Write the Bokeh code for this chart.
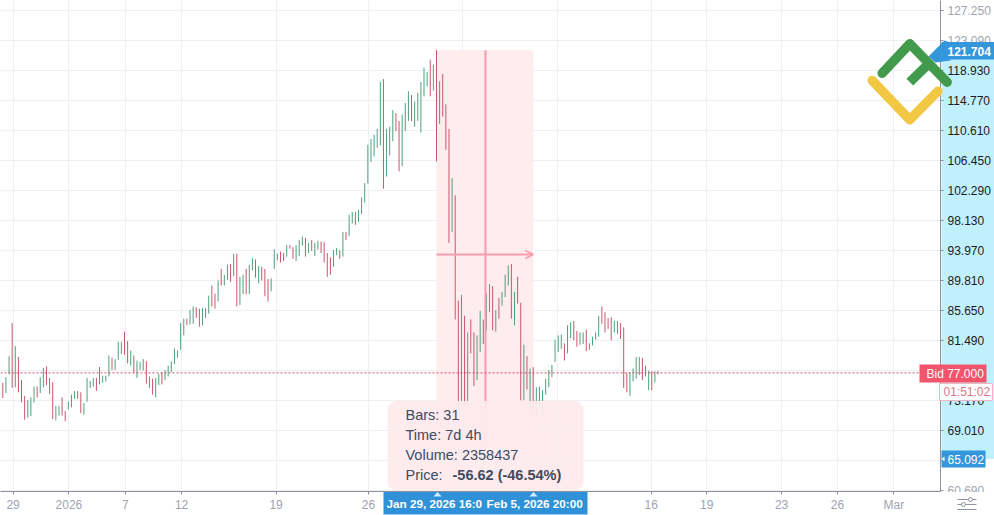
from bokeh.embed import file_html
from bokeh.layouts import column
from bokeh.models import (Arrow, BoxAnnotation, ColumnDataSource, FixedTicker, Label,
                          OpenHead, PolyAnnotation, Range1d, Span)
from bokeh.plotting import figure
from bokeh.resources import INLINE

# 4h bars
highs = [75.6, 76.4, 79.3, 83.9, 80.7, 79.2, 76.0, 73.8, 73.2, 73.6,
         75.1, 75.1, 76.4, 77.7, 77.9, 76.3, 75.7, 72.4, 72.4, 73.6,
         71.7, 73.0, 74.0, 74.5, 74.5, 74.3, 72.8, 76.3, 75.9, 76.3,
         76.3, 77.8, 76.6, 76.6, 79.4, 79.1, 78.9, 81.3, 81.3, 82.7,
         81.4, 80.1, 79.4, 78.7, 78.5, 78.9, 78.6, 76.5, 76.2, 76.3,
         76.9, 77.1, 77.4, 78.0, 78.6, 80.4, 80.1, 83.9, 84.5, 84.5,
         85.7, 86.2, 86.1, 85.9, 86.0, 86.0, 87.7, 89.1, 88.0, 89.8,
         91.4, 90.6, 92.0, 92.1, 93.5, 93.5, 90.3, 90.6, 91.4, 92.0,
         92.9, 92.7, 91.8, 91.7, 91.4, 90.0, 90.1, 94.1, 93.5, 93.8,
         93.6, 94.7, 94.7, 94.4, 94.7, 95.4, 95.9, 95.7, 95.0, 95.4,
         95.0, 95.3, 95.2, 95.1, 93.6, 93.0, 94.0, 94.3, 94.0, 96.5,
         96.5, 98.9, 99.3, 99.3, 99.6, 101.3, 103.3, 108.6, 109.4, 110.0,
         110.8, 117.3, 117.7, 110.8, 111.1, 113.4, 113.0, 111.9, 112.8, 114.4,
         116.0, 115.5, 114.6, 115.8, 117.3, 119.3, 118.7, 120.4, 119.7, 121.7,
         117.4, 118.4, 114.2, 110.8, 104.0, 101.6, 87.0, 87.8, 84.9, 82.6,
         84.4, 82.6, 82.2, 85.6, 84.4, 88.0, 89.3, 89.0, 85.7, 87.4,
         88.2, 90.6, 91.9, 92.1, 88.2, 90.3, 86.7, 80.9, 79.3, 77.6,
         77.8, 75.0, 75.1, 74.6, 76.2, 77.4, 78.1, 81.6, 82.2, 82.3,
         81.1, 83.6, 84.0, 84.2, 82.8, 82.6, 82.6, 83.0, 81.1, 82.0,
         82.6, 84.9, 86.2, 85.4, 84.6, 84.7, 84.2, 84.2, 83.9, 83.3,
         77.0, 77.1, 77.6, 79.2, 79.2, 79.1, 78.0, 77.3, 77.2, 77.2,
         77.2]
lows = [73.5, 74.2, 76.8, 74.9, 75.0, 74.3, 72.9, 70.5, 70.8, 71.0,
        72.9, 73.6, 74.2, 75.0, 75.3, 74.1, 70.6, 70.4, 71.1, 71.1,
        70.3, 71.9, 72.2, 73.4, 73.4, 71.4, 71.2, 73.0, 74.9, 75.1,
        74.5, 75.4, 75.6, 75.8, 76.5, 77.4, 77.4, 78.8, 79.6, 79.5,
        78.3, 78.0, 77.0, 76.3, 77.4, 77.3, 75.5, 74.9, 74.0, 73.6,
        75.3, 75.4, 76.0, 76.5, 77.1, 78.2, 79.1, 80.2, 82.2, 83.6,
        83.7, 83.8, 84.6, 83.4, 83.6, 84.6, 85.2, 86.2, 85.9, 86.9,
        89.1, 89.1, 89.9, 89.6, 90.4, 86.2, 86.4, 87.9, 87.9, 87.9,
        91.2, 90.2, 89.4, 89.8, 87.6, 86.9, 88.3, 91.4, 92.6, 92.3,
        92.5, 93.1, 94.2, 92.8, 92.5, 93.2, 94.6, 93.1, 93.6, 93.9,
        93.2, 94.1, 93.6, 92.3, 90.3, 90.6, 91.7, 93.3, 92.8, 93.1,
        95.4, 96.0, 97.7, 97.5, 97.9, 99.0, 100.6, 103.2, 106.2, 107.0,
        108.2, 108.5, 102.5, 104.2, 107.1, 109.1, 110.5, 104.9, 105.6, 110.5,
        111.9, 111.9, 111.1, 111.9, 110.3, 115.3, 116.7, 115.3, 116.1, 106.3,
        111.5, 112.5, 107.9, 95.0, 96.5, 84.4, 72.3, 72.7, 72.3, 72.3,
        79.7, 75.2, 76.0, 79.9, 81.0, 82.9, 85.4, 82.9, 82.7, 84.5,
        86.3, 87.5, 89.1, 84.5, 83.6, 86.6, 73.2, 73.2, 74.7, 72.3,
        71.3, 70.9, 72.3, 71.3, 74.0, 75.0, 76.4, 78.5, 79.9, 80.3,
        78.7, 79.7, 81.8, 81.5, 80.6, 80.9, 81.0, 80.0, 80.2, 80.8,
        81.6, 82.0, 83.8, 82.6, 83.1, 81.5, 82.6, 82.4, 81.7, 74.9,
        74.3, 73.8, 75.8, 76.2, 76.7, 76.0, 76.5, 74.6, 74.6, 75.7,
        76.8]
# r = falling bar, g = rising bar
sides = ("rggrgrrrgg" "grggrrrggr" "rgggrrgggg" "rggggrgggr" "rgrgggrgrg"
         "grgggggggr" "ggrrgggrrg" "rggrgrggrg" "grgrrrgggr" "rgrrgggrgr"
         "ggrrrrggrg" "rggrgggggg" "ggrgggrrgg" "grgggggrgr" "grrrgrrgrg"
         "rrggrggrgr" "gggrgrrgrg" "rggggggggg" "rggrrggrrg" "ggrrrrggrr"
         "rggggrrgrgg")

x_ticks = [3.3, 21.2, 39.3, 57.3, 87.6, 117.2, 147.4, 177.7, 207.8, 225.6, 249.6, 267.5, 285.6]
x_labels = ["29", "2026", "7", "12", "19", "26", "2", "9", "16", "19", "23", "26", "Mar"]
y_ticks = [60.69, 64.85, 69.01, 73.17, 77.33, 81.49, 85.65, 89.81, 93.97,
           98.13, 102.29, 106.45, 110.61, 114.77, 118.93, 123.09, 127.25]
faded_ticks = [60.69, 123.09, 127.25]

sel_start, sel_end = 139, 170
sel_high, sel_low = 121.704, 65.092
bid = 77.0

FONT = "Liberation Sans"
GREEN = "#4f9f7d"
RED = "#c9566d"
BLUE = "#3497dc"
SEL_LINE = "#f79bad"
W, H = 994, 515


def layer():
    # full-canvas figure without axes, annotations in it are not cut at the chart frame
    f = figure(frame_width=W, frame_height=H, output_backend="svg", toolbar_location=None,
               x_range=Range1d(0, W), y_range=Range1d(H, 0),
               x_axis_location=None, y_axis_location=None,
               min_border_left=0, min_border_right=0, min_border_top=0, min_border_bottom=0)
    f.grid.visible = False
    f.outline_line_color = None
    f.background_fill_color = None
    f.border_fill_color = None
    return f


under = layer()
under.border_fill_color = "white"
top = layer()
top.margin = (-H, 0, 0, 0)

p = figure(width=W, height=H, output_backend="svg", toolbar_location=None,
           x_range=Range1d(-0.74, 300.54), y_range=Range1d(60.56, 128.59),
           y_axis_location="right", min_border_left=0, min_border_top=0,
           min_border_right=54, min_border_bottom=24, margin=(-H, 0, 0, 0))
p.outline_line_color = None
p.background_fill_color = None
p.border_fill_color = None
p.xgrid.ticker = FixedTicker(ticks=x_ticks)
p.ygrid.ticker = FixedTicker(ticks=y_ticks)
p.xgrid.grid_line_color = "#eff0f3"
p.ygrid.grid_line_color = "#eff0f3"

p.xaxis.ticker = FixedTicker(ticks=x_ticks)
p.xaxis.major_label_overrides = dict(zip(x_ticks, x_labels))
p.yaxis.ticker = FixedTicker(ticks=y_ticks)
p.yaxis.major_label_overrides = {t: "" if t in faded_ticks else f"{t:.3f}" for t in y_ticks}
for ax in (p.xaxis[0], p.yaxis[0]):
    ax.axis_line_color = "#8d929c"
    ax.major_tick_line_color = "#8d929c"
    ax.minor_tick_line_color = None
    ax.major_tick_in = 0
    ax.major_tick_out = 3
    ax.major_label_text_font = FONT
    ax.major_label_text_font_size = "12px"
p.xaxis.major_label_text_color = "#9ea3af"
p.xaxis.major_label_standoff = 3
p.yaxis.major_label_text_color = "#1b1b1b"
p.yaxis.major_label_standoff = 4

p.add_layout(BoxAnnotation(left=sel_start, right=sel_end, top=sel_high, bottom=sel_low,
                           fill_color="#feeaed", fill_alpha=0.9, line_color=None, level="underlay"))

source = ColumnDataSource(data=dict(
    x=list(range(len(highs))),
    high=highs,
    low=lows,
    color=[RED if s == "r" else GREEN for s in sides],
))
p.segment(x0="x", y0="low", x1="x", y1="high", color="color", line_width=1, source=source)

p.add_layout(Span(location=bid, dimension="width", line_color="#cf4f62", line_width=1, line_dash="2 2"))

mid_x = (sel_start + sel_end + 0.4) / 2
mid_y = (sel_high + sel_low) / 2
p.segment(x0=[mid_x], y0=[sel_low], x1=[mid_x], y1=[sel_high], color=SEL_LINE, line_width=2)
p.add_layout(Arrow(end=OpenHead(size=8, line_color=SEL_LINE, line_width=1.5),
                   x_start=sel_start, y_start=mid_y, x_end=sel_end, y_end=mid_y,
                   line_color=SEL_LINE, line_width=2))


def box(f, x0, y0, x1, y1, color, line=None, radius=0, alpha=1):
    f.add_layout(BoxAnnotation(left=x0, right=x1, top=y0, bottom=y1,
                               left_units="canvas", right_units="canvas",
                               top_units="canvas", bottom_units="canvas",
                               fill_color=color, fill_alpha=alpha, line_color=line, line_alpha=1,
                               border_radius=radius))


def text(x, y, s, color="white", size="12px", style="normal"):
    top.add_layout(Label(x=x, y=y, x_units="canvas", y_units="canvas", text=s, text_font=FONT,
                         text_font_size=size, text_font_style=style, text_color=color,
                         text_baseline="middle"))


def stroke(pts, color, width):
    # out and back along the path so the joins give rounded ends
    path = pts + pts[-2:0:-1]
    top.add_layout(PolyAnnotation(xs=[a for a, _ in path], ys=[b for _, b in path],
                                  xs_units="canvas", ys_units="canvas", fill_alpha=0,
                                  line_color=color, line_alpha=1, line_width=width, line_join="round"))


def shape(pts, color):
    top.add_layout(PolyAnnotation(xs=[a for a, _ in pts], ys=[b for _, b in pts],
                                  xs_units="canvas", ys_units="canvas", fill_color=color, fill_alpha=1,
                                  line_color=None))


# price scale band between the two selected prices
box(under, 941, 50, W, 458.5, "#bff0fb")

# scale labels outside the band, same rows as the axis ticks
faded_rows = {60.69: 489.5, 123.09: 40, 127.25: 9.5}
for t in faded_ticks:
    text(947, faded_rows[t], f"{t:.3f}", color="#a1a5ad")
box(top, 941, 491.5, W, H, "white")

# tags on the price scale
shape([(928, 56), (944, 40), (950, 42), (950, 60), (935, 62)], BLUE)
box(top, 941, 41.5, W, 59, BLUE)
text(947, 50.5, f"{sel_high:.3f}", style="bold")
box(top, 941, 450, 985, 467, BLUE)
shape([(941, 458.5), (944, 456), (944, 461)], "white")
text(947, 458.5, f"{sel_low:.3f}")
box(top, 919, 364, 986, 382, "#f2556b")
text(926, 373, f"Bid {bid:.3f}")
box(top, 939, 383, 992, 400, "white", line="#f0b5c0")
text(943, 391.5, "01:51:02", color="#d9788b")

# measurement tooltip
box(top, 387, 400.5, 583, 490, "#fdeaed", radius=9, alpha=0.94)
INK = "#414a60"
text(405, 414.5, "Bars: 31", color=INK, size="14.5px")
text(405, 434.5, "Time: 7d 4h", color=INK, size="14.5px")
text(405, 454.5, "Volume: 2358437", color=INK, size="14.5px")
text(405, 474.5, "Price:", color=INK, size="14.5px")
text(452, 474.5, "-56.62 (-46.54%)", color=INK, size="14.5px", style="bold")

# dates of the selection under the time scale
box(top, 383, 491.5, 587, 514, "#2f92d8")
text(386, 503, "Jan 29, 2026 16:0", size="11.7px", style="bold")
text(486, 503, "Feb 5, 2026 20:00", size="11.7px", style="bold")
shape([(433, 496), (437, 491.5), (441, 496)], "#d8ecf9")
shape([(529, 496), (533, 491.5), (537, 496)], "#d8ecf9")

# settings icon
ICON = "#8f94a0"
stroke([(957, 499), (976, 499)], ICON, 1)
stroke([(957, 504), (976, 504)], ICON, 1)
stroke([(957, 509), (976, 509)], ICON, 1)
box(top, 968, 497, 972, 501, "white", line=ICON, radius=2)
box(top, 961, 502, 965, 506, "white", line=ICON, radius=2)

# logo
stroke([(881.7, 72.7), (909.3, 43.3), (946.7, 81.7)], "#429a4d", 9.5)
stroke([(909.3, 81.7), (928, 63.3)], "#429a4d", 9.5)
stroke([(871.7, 80), (909.3, 119.3), (937.3, 90.7)], "#f1c744", 9.5)

page = column(under, p, top, spacing=0)
open("out.html", "w").write(file_html(page, INLINE))
